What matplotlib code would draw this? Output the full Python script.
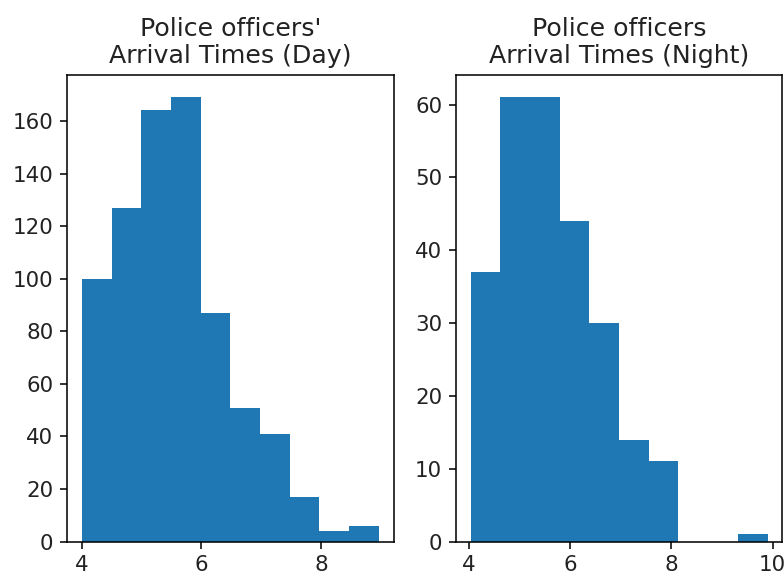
import matplotlib
matplotlib.use("Agg")
import matplotlib.pyplot as plt
import numpy as np

# bin edges and counts
day_edges = [4.0, 4.497, 4.994, 5.491, 5.988, 6.485, 6.982, 7.479, 7.976, 8.473, 8.97]
day_counts = [100, 127, 164, 169, 87, 51, 41, 17, 4, 6]

night_edges = [4.03, 4.617, 5.204, 5.791, 6.378, 6.965, 7.552, 8.139, 8.726, 9.313, 9.9]
night_counts = [37, 61, 61, 44, 30, 14, 11, 0, 0, 1]

plt.rcParams['xtick.labelsize'] = 11
plt.rcParams['ytick.labelsize'] = 11
plt.rcParams['axes.titlesize'] = 13
plt.rcParams['text.color'] = '#222222'
plt.rcParams['xtick.labelcolor'] = '#222222'
plt.rcParams['ytick.labelcolor'] = '#222222'

fig, (ax1, ax2) = plt.subplots(1, 2, figsize=(5.6, 578 / 140), dpi=140)
fig.subplots_adjust(left=0.0855, right=0.998, bottom=0.063, top=0.870, wspace=0.19)

ax1.hist(day_edges[:-1], bins=day_edges, weights=day_counts)
ax1.set_title("Police officers'\nArrival Times (Day)")

ax2.hist(night_edges[:-1], bins=night_edges, weights=night_counts)
ax2.set_title("Police officers\nArrival Times (Night)")

fig.savefig("out.png", dpi=140)
